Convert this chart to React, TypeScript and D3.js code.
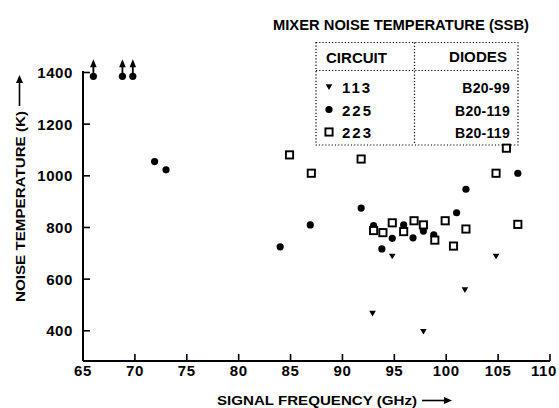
import React from "react";
import * as d3 from "d3";

const W = 559;
const H = 408;

const xTicks = [65, 70, 75, 80, 85, 90, 95, 100, 105, 110];
const yTicks = [400, 600, 800, 1000, 1200, 1400];

// circuit 113 (diodes B20-99): [GHz, K]
const circuit113: [number, number][] = [
  [92.9, 467], [94.8, 688], [97.8, 397], [101.8, 558], [104.8, 688],
];
// circuit 225 (diodes B20-119)
const circuit225: [number, number][] = [
  [66, 1385], [68.8, 1385], [69.8, 1385], [71.9, 1055], [73, 1023],
  [84, 725], [86.9, 810], [91.8, 875], [93, 807], [93.8, 717], [94.8, 758],
  [95.9, 810], [96.8, 760], [97.8, 786], [98.8, 771], [101, 857], [101.9, 948],
  [106.9, 1010],
];
// lower-bound points (arrow up)
const lowerBound225 = [66, 68.8, 69.8];
// circuit 223 (diodes B20-119)
const circuit223: [number, number][] = [
  [84.9, 1081], [87, 1010], [91.8, 1065], [93, 788], [93.9, 780], [94.8, 818],
  [95.9, 784], [96.9, 826], [97.8, 810], [98.9, 751], [99.9, 826], [100.7, 728],
  [101.9, 794], [104.8, 1010], [105.8, 1107], [106.9, 812],
];

const legendRows = [
  { sym: "tri", circuit: "113", diodes: "B20-99" },
  { sym: "dot", circuit: "225", diodes: "B20-119" },
  { sym: "sq", circuit: "223", diodes: "B20-119" },
];

const FONT = "'Liberation Sans', Arial, sans-serif";

export default function App() {
  const x = d3.scaleLinear().domain([65, 110]).range([83, 550]);
  const y = d3.scaleLinear().domain([283, 1400]).range([361, 72.5]);
  const tri = (cx: number, cy: number, s = 3.3) =>
    `M${cx - s},${cy - s * 0.8}L${cx + s},${cy - s * 0.8}L${cx},${cy + s * 0.9}Z`;

  const sym = (kind: string, cx: number, cy: number, key?: any) => {
    if (kind === "tri") return <path key={key} d={tri(cx, cy)} fill="#000" />;
    if (kind === "dot") return <circle key={key} cx={cx} cy={cy} r={3.6} fill="#000" />;
    return (
      <rect key={key} x={cx - 3.6} y={cy - 3.6} width={7.2} height={7.2}
        fill="#fff" stroke="#000" strokeWidth={1.9} />
    );
  };

  const x0 = x(65), x1 = x(110), yb = y(283), yt = y(1400);
  const lastTick = xTicks[xTicks.length - 1];

  return (
    <svg width={W} height={H} style={{ position: "absolute", left: 0, top: 0, background: "#fff" }}
      fontFamily={FONT}>
      {/* axes */}
      <line x1={x0} x2={x1} y1={yb} y2={yb} stroke="#000" strokeWidth={2} />
      <line x1={x0} x2={x0} y1={yb} y2={yt - 1.5} stroke="#000" strokeWidth={2} />
      {xTicks.map((t) => (
        <g key={"xt" + t}>
          <line x1={x(t)} x2={x(t)} y1={yb} y2={yb - 7} stroke="#000" strokeWidth={1.6} />
          <text x={t === lastTick ? W - 2 : x(t)} y={376}
            textAnchor={t === lastTick ? "end" : "middle"} fontSize={15} fontWeight="bold"
            letterSpacing={0.6}>{t}</text>
        </g>
      ))}
      {yTicks.map((t) => (
        <g key={"yt" + t}>
          <line x1={x0} x2={x0 + 7} y1={y(t)} y2={y(t)} stroke="#000" strokeWidth={1.6} />
          <text x={73} y={y(t) + 5.5} textAnchor="end" fontSize={15} fontWeight="bold"
            letterSpacing={0.6}>{t}</text>
        </g>
      ))}

      {/* axis labels */}
      <text x={217} y={405} fontSize={13} fontWeight="bold" textLength={200}
        lengthAdjust="spacingAndGlyphs">SIGNAL FREQUENCY (GHz)</text>
      <line x1={422} x2={446} y1={400.5} y2={400.5} stroke="#000" strokeWidth={1.6} />
      <path d="M452,400.5L444,397L444,404Z" fill="#000" />

      <text transform="translate(24.5,302) rotate(-90)" fontSize={13} fontWeight="bold"
        textLength={191} lengthAdjust="spacingAndGlyphs">NOISE TEMPERATURE (K)</text>
      <line x1={19.5} x2={19.5} y1={106} y2={81} stroke="#000" strokeWidth={1.6} />
      <path d="M19.5,75L16,83L23,83Z" fill="#000" />

      {/* title */}
      <text x={273} y={30} fontSize={14} fontWeight="bold" textLength={256}
        lengthAdjust="spacingAndGlyphs">MIXER NOISE TEMPERATURE (SSB)</text>

      {/* legend */}
      <g stroke="#000" strokeWidth={1.2} strokeDasharray="1.2 2" fill="none">
        <rect x={316} y={42.5} width={202} height={102.5} />
        <line x1={414.5} x2={414.5} y1={42.5} y2={145} />
        <line x1={316} x2={518} y1={70.5} y2={70.5} />
      </g>
      <text x={326} y={63} fontSize={14} fontWeight="bold" textLength={61}
        lengthAdjust="spacingAndGlyphs">CIRCUIT</text>
      <text x={507} y={62} fontSize={14} fontWeight="bold" textAnchor="end" textLength={58}
        lengthAdjust="spacingAndGlyphs">DIODES</text>
      {legendRows.map((r, i) => {
        const by = 93 + i * 22.5;
        return (
          <g key={"lg" + i}>
            {sym(r.sym, 329, by - 6)}
            <text x={342} y={by} fontSize={15} fontWeight="bold" letterSpacing={2}>{r.circuit}</text>
            <text x={510} y={by} fontSize={14} fontWeight="bold" textAnchor="end"
              letterSpacing={0.3}>{r.diodes}</text>
          </g>
        );
      })}

      {/* lower bound arrows */}
      {lowerBound225.map((f, i) => (
        <g key={"ar" + i}>
          <line x1={x(f)} x2={x(f)} y1={y(1385)} y2={y(1385) - 10} stroke="#000" strokeWidth={1.8} />
          <path d={`M${x(f)},${y(1385) - 17}L${x(f) - 3.3},${y(1385) - 9}L${x(f) + 3.3},${y(1385) - 9}Z`}
            fill="#000" />
        </g>
      ))}

      {/* data */}
      {circuit225.map((d, i) => sym("dot", x(d[0]), y(d[1]), "c" + i))}
      {circuit223.map((d, i) => sym("sq", x(d[0]), y(d[1]), "s" + i))}
      {circuit113.map((d, i) => sym("tri", x(d[0]), y(d[1]), "t" + i))}
    </svg>
  );
}
